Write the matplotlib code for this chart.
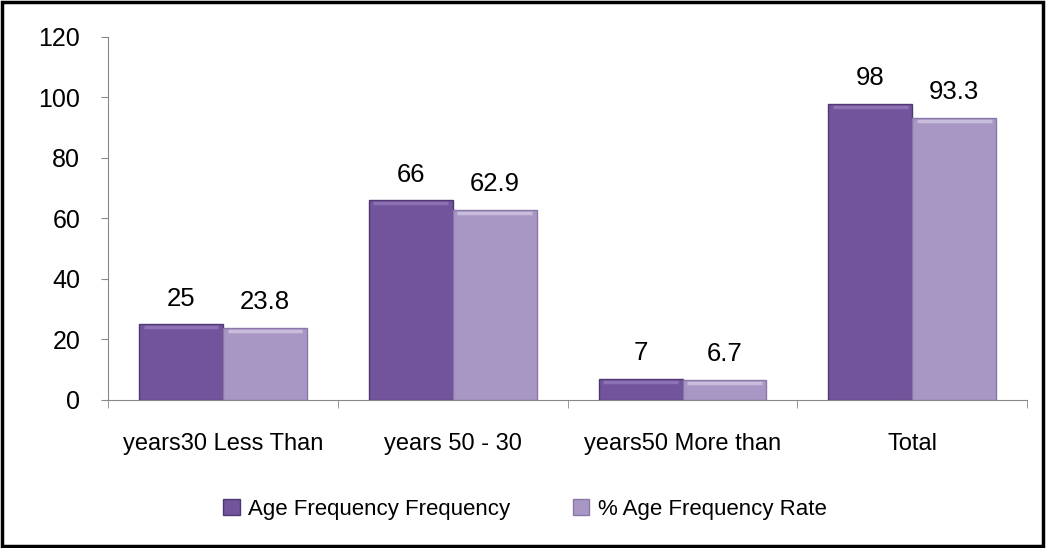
import matplotlib.pyplot as plt
import numpy as np

categories = ["years30 Less Than", "years 50 - 30", "years50 More than", "Total"]
frequency = [25, 66, 7, 98]
rate = [23.8, 62.9, 6.7, 93.3]
freq_labels = ["25", "66", "7", "98"]
rate_labels = ["23.8", "62.9", "6.7", "93.3"]

plt.rcParams["font.family"] = ["Liberation Sans", "DejaVu Sans"]

fig = plt.figure(figsize=(10.46, 5.48), dpi=100)
ax = fig.add_axes([0.1033, 0.2701, 0.8787, 0.6624])

x = np.arange(len(categories))
w = 0.365
dark = "#71549b"
light = "#a897c4"
ax.bar(x - w / 2, frequency, w, color=dark, edgecolor="#4f3873", linewidth=1.0,
       label="Age Frequency Frequency")
ax.bar(x + w / 2, rate, w, color=light, edgecolor="#8a77a8", linewidth=1.0,
       label="% Age Frequency Rate")

# bevel highlight along the top of each bar
for xi, v in zip(x, frequency):
    ax.plot([xi - w + 0.02, xi - 0.02], [v - 1.0, v - 1.0], color="#8c72b4", lw=2.5,
            solid_capstyle="butt")
for xi, v in zip(x, rate):
    ax.plot([xi + 0.02, xi + w - 0.02], [v - 1.0, v - 1.0], color="#c9bddc", lw=2.5,
            solid_capstyle="butt")

for xi, v, s in zip(x, frequency, freq_labels):
    ax.text(xi - w / 2, v + 4.5, s, ha="center", va="bottom", fontsize=18.5)
for xi, v, s in zip(x, rate, rate_labels):
    ax.text(xi + w / 2, v + 4.5, s, ha="center", va="bottom", fontsize=18.5)

ax.set_xlim(-0.5, len(categories) - 0.5)
ax.set_ylim(0, 120)
ax.set_yticks(range(0, 121, 20))
ax.tick_params(axis="y", labelsize=18, length=5, color="#888888", pad=15)
ax.set_xticks(x)
ax.set_xticklabels(categories, fontsize=17)
ax.tick_params(axis="x", length=0, pad=24)
ax.set_xticks(np.arange(-0.5, len(categories)), minor=True)
ax.tick_params(axis="x", which="minor", length=6, color="#888888")

for side in ["top", "right"]:
    ax.spines[side].set_visible(False)
for side in ["left", "bottom"]:
    ax.spines[side].set_color("#888888")

fig.legend(loc="center", bbox_to_anchor=(0.502, 0.071), ncol=2, frameon=False,
           fontsize=16, handlelength=0.75, handleheight=0.75, columnspacing=2.8,
           handletextpad=0.4)

fig.patches.append(plt.Rectangle((0.002, 0.003), 0.995, 0.993, transform=fig.transFigure,
                                 fill=False, edgecolor="black", linewidth=2.5))

fig.savefig("out.png", dpi=100)
